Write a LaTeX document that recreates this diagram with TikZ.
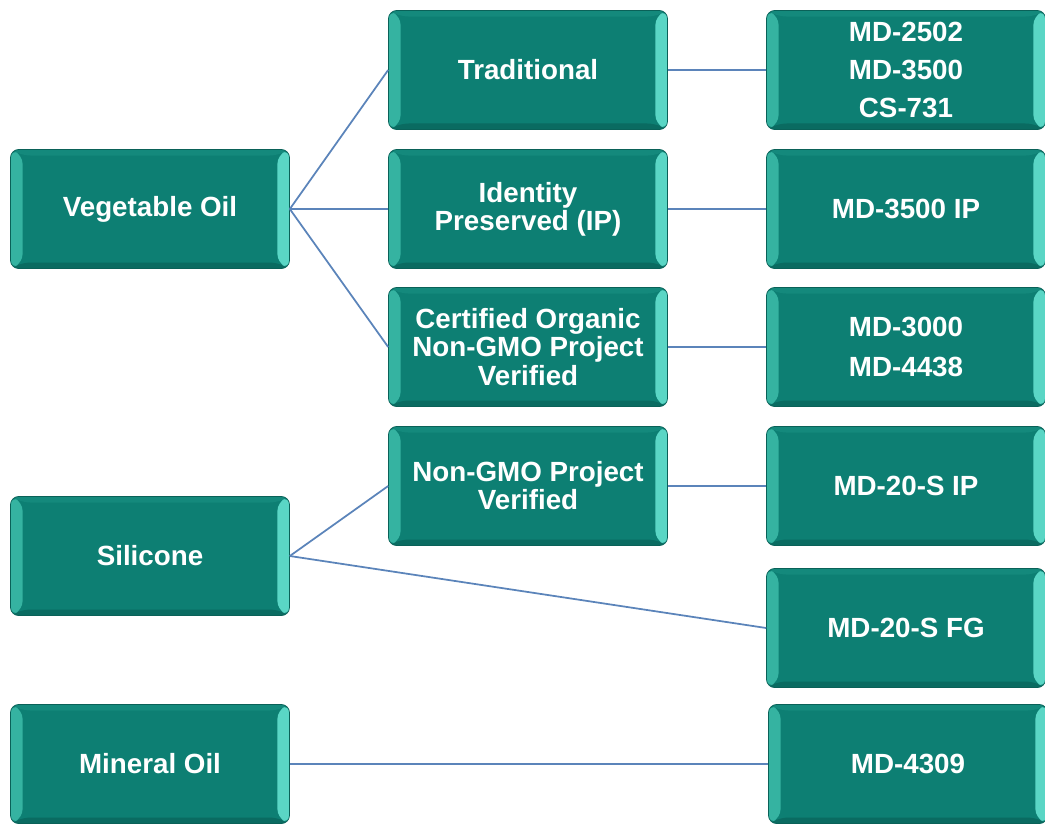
\documentclass[tikz,border=0pt]{standalone}
\usepackage{fontspec}
\setmainfont{Liberation Sans}
\usetikzlibrary{positioning}

\definecolor{tealmain}{HTML}{0D7F73}
\definecolor{tealedge}{HTML}{0A6158}
\definecolor{teallight}{HTML}{35B3A1}
\definecolor{tealbright}{HTML}{5AD6C5}
\definecolor{tealtop}{HTML}{14897C}
\definecolor{tealbottom}{HTML}{0A6B61}
\definecolor{linkblue}{HTML}{5B84BA}

\begin{document}
\begin{tikzpicture}[x=0.02cm, y=-0.02cm,
    box/.style={rectangle, rounded corners=0.16cm, draw=tealedge, line width=0.4pt,
        fill=tealmain, minimum width=5.58cm, minimum height=2.38cm, align=center,
        text=white, font=\fontsize{15.8}{16}\selectfont\bfseries,
        path picture={
            \coordinate (sw) at (path picture bounding box.south west);
            \coordinate (ne) at (path picture bounding box.north east);
            \coordinate (nw) at (path picture bounding box.north west);
            \coordinate (se) at (path picture bounding box.south east);
            \fill[tealtop] (nw) -- (ne) -- ([shift={(-0.24cm,-0.12cm)}]ne) -- ([shift={(0.24cm,-0.12cm)}]nw) -- cycle;
            \fill[tealbottom] (sw) -- (se) -- ([shift={(-0.24cm,0.12cm)}]se) -- ([shift={(0.24cm,0.12cm)}]sw) -- cycle;
            \fill[teallight] (sw) -- (nw) -- ([shift={(0.24cm,-0.12cm)}]nw) -- ([shift={(0.24cm,0.12cm)}]sw) -- cycle;
            \fill[tealbright] (se) -- (ne) -- ([shift={(-0.24cm,-0.12cm)}]ne) -- ([shift={(-0.24cm,0.12cm)}]se) -- cycle;
        }},
    link/.style={draw=linkblue, line width=1pt}]

\useasboundingbox (0,0) rectangle (1045,823);

% left column
\node[box] (veg) at (150,209) {Vegetable Oil};
\node[box] (sil) at (150,556) {Silicone};
\node[box] (min) at (150,764) {Mineral Oil};

% middle column
\node[box] (trad) at (528,70) {Traditional};
\node[box] (ident) at (528,209) {Identity\\Preserved (IP)};
\node[box] (cert) at (528,347) {Certified Organic\\Non-GMO Project\\Verified};
\node[box] (nongmo) at (528,486) {Non-GMO Project\\Verified};

% right column
\node[box] (tradprod) at (906,70) {MD-2502\\[5.5pt]MD-3500\\[5.5pt]CS-731};
\node[box] (identprod) at (906,209) {MD-3500 IP};
\node[box] (certprod) at (906,347) {MD-3000\\[7pt]MD-4438};
\node[box] (nongmoprod) at (906,486) {MD-20-S IP};
\node[box] (fgprod) at (906,628) {MD-20-S FG};
\node[box] (minprod) at (908,764) {MD-4309};

\path[link]
    (veg.east) edge (trad.west)
    (veg.east) edge (ident.west)
    (veg.east) edge (cert.west)
    (sil.east) edge (nongmo.west)
    (sil.east) edge (fgprod.west)
    (min.east) edge (minprod.west)
    (trad.east) edge (tradprod.west)
    (ident.east) edge (identprod.west)
    (cert.east) edge (certprod.west)
    (nongmo.east) edge (nongmoprod.west)
;
\end{tikzpicture}
\end{document}
